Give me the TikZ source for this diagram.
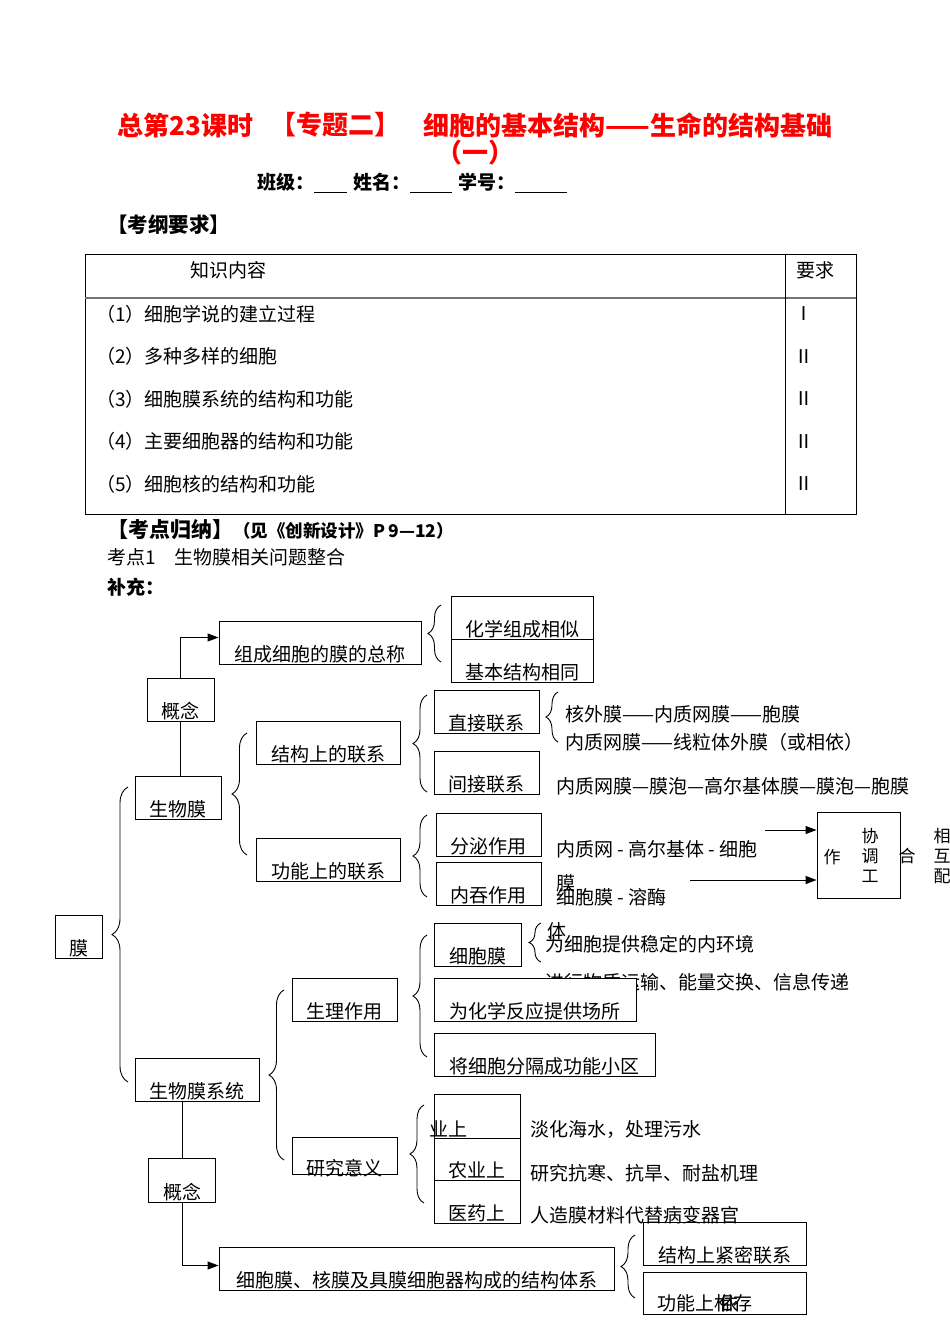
\documentclass[tikz,border=0pt]{standalone}
\usepackage{fontspec}
\setmainfont{Noto Sans CJK SC}
\usetikzlibrary{arrows.meta,decorations.pathreplacing}
\newcommand\wz{\fontsize{19}{22}\selectfont}
\newcommand\xz{\fontsize{17}{20}\selectfont}

\begin{document}
\begin{tikzpicture}[x=1pt,y=-1pt,line width=0.9pt,
    txt/.style={inner sep=0,anchor=west,font=\wz},
    box/.style={draw,inner sep=0,text height=40pt,text depth=3pt,font=\wz},
    plainbox/.style={draw,inner sep=0},
    brc/.style={decorate,decoration={brace,amplitude=#1}},brc/.default=13pt,
    arr/.style={-{Triangle[length=11pt,width=8pt]}}]
\useasboundingbox[fill=white] (0,0) rectangle (950,1342);

			\begin{scope}[every node/.style={inner sep=0,anchor=west,text=red,font=\fontsize{26}{29}\selectfont\bfseries}]
	    		\node (t1) at (117,125) {总第23课时};
	    		\node (t2) at (270,125) {【专题二】};
	    		\node (t3) at (423,125) {细胞的基本结构——生命的结构基础};
	    		\node[anchor=center] (t4) at (475,153) {（一）};
			\end{scope}
			\begin{scope}[every node/.style={inner sep=0,anchor=west,font=\wz\bfseries}]
	    		\node (bj) at (257,183) {班级：\rule[-3pt]{33pt}{1pt}\hspace{6pt}姓名：\rule[-3pt]{42pt}{1pt}\hspace{6pt}学号：\rule[-3pt]{52pt}{1pt}};
	    		\node (kg) at (107,225) {\fontsize{20.5}{24}\selectfont【考纲要求】};
	    		\node (kd) at (107,530) {\fontsize{21}{24}\selectfont【考点归纳】\fontsize{17.5}{20}\selectfont（见《创新设计》P\,9—12）};
	    		\node (bc) at (107,587) {补充：};
			\end{scope}

			\draw (85,254) rectangle (856,514);
			\draw[line width=1.6pt,black!55] (85,298) -- (856,298);
			\draw (785,254) -- (785,514);
			\node[txt] (zsnr) at (190,270) {知识内容};
			\node[txt] (yq) at (796,270) {要求};
			\foreach \t/\r [count=\i] in {细胞学说的建立过程/Ⅰ,多种多样的细胞/Ⅱ,细胞膜系统的结构和功能/Ⅱ,主要细胞器的结构和功能/Ⅱ,细胞核的结构和功能/Ⅱ}{
	    		\node[txt] (row\i) at (96,{271.5+42.5*\i}) {（\i）\t};
	    		\node[txt,anchor=center] (req\i) at (804,{271.5+42.5*\i}) {\r};
			}
			\node[txt] (kd1) at (107,557) {考点1\quad 生物膜相关问题整合};

			\begin{scope}[every node/.style={box}]
	    		\node[minimum width=202] (zcm) at (320,642.5) {组成细胞的膜的总称};
	    		\node[minimum width=142] (hx) at (522,618) {化学组成相似};
	    		\node[minimum width=142] (jb) at (522,661) {基本结构相同};
	    		\node[minimum width=67] (gn1) at (180.5,699.5) {概念};
	    		\node[minimum width=86] (swm) at (178,797.5) {生物膜};
	    		\node[minimum width=144] (jg) at (328,742.5) {结构上的联系};
	    		\node[minimum width=144] (gn) at (328,859.5) {功能上的联系};
	    		\node[minimum width=105] (zj) at (486.5,711.5) {直接联系};
	    		\node[minimum width=105] (jj) at (486.5,772.5) {间接联系};
	    		\node[minimum width=105] (fm) at (488.5,834.5) {分泌作用};
	    		\node[minimum width=105] (nt) at (488.5,883.5) {内吞作用};
	    		\node[minimum width=47] (mo) at (78.5,937) {膜};
	    		\node[minimum width=124] (swmxt) at (197,1079.5) {生物膜系统};
	    		\node[minimum width=105] (sl) at (344.5,999.5) {生理作用};
	    		\node[minimum width=87] (xbm) at (477.5,944.5) {细胞膜};
			\end{scope}

			\node[txt] (ts1) at (565,714) {核外膜——内质网膜——胞膜};
	    	\node[txt] (ts2) at (565,742) {内质网膜——线粒体外膜（或相依）};
	    	\node[txt] (ts3) at (556,786) {内质网膜—膜泡—高尔基体膜—膜泡—胞膜};
	    	\node[txt] (ts4) at (556,849) {内质网 - 高尔基体 - 细胞};
	    	\node[txt] (ts5) at (556,883) {膜};
	    	\node[txt] (ts6) at (556,897) {细胞膜 - 溶酶};
	    	\node[txt] (ts7) at (547,931) {体};
	    	\node[txt] (ts8) at (545,944) {为细胞提供稳定的内环境};
	    	\node[txt] (ts9) at (545,982) {进行物质运输、能量交换、信息传递};

			\begin{scope}[every node/.style={box}]
	    		\node[minimum width=202,fill=white] (hxfy) at (535,999.5) {为化学反应提供场所};
	    		\node[minimum width=221] (fg) at (544.5,1054.5) {将细胞分隔成功能小区};
	    		\node[minimum width=86,text height=39pt] (ny) at (477,1159) {农业上};
	    		\node[minimum width=86] (yy) at (477,1201.5) {医药上};
	    		\node[minimum width=67,text height=41pt] (gn2) at (182,1180) {概念};
	    		\node[minimum width=395] (xbmhm) at (416.5,1268.5) {细胞膜、核膜及具膜细胞器构成的结构体系};
	    		\node[minimum width=163] (jgjm) at (724.5,1243.5) {结构上紧密联系};
			\end{scope}
			\node[plainbox,minimum width=105,minimum height=37] (yj) at (344.5,1155.5) {};
			\node[txt,anchor=center] (yjt) at (344.5,1168) {研究意义};
			\node[plainbox,minimum width=86,minimum height=44] (gy) at (477,1116) {};
			\node[txt] (gyt) at (429,1129) {业上};
			\node[plainbox,minimum width=163,minimum height=42] (gnxy) at (724.5,1293) {};
			\node[txt] (gnxyt) at (657,1303) {功能上相存};
			\node[txt] (yi) at (719,1303) {依};
			\node[txt] (ys1) at (530,1130) {淡化海水，处理污水};
			\node[txt] (ys2) at (530,1173) {研究抗寒、抗旱、耐盐机理};
			\node[txt] (ys3) at (530,1215) {人造膜材料代替病变器官};

			\node[plainbox,minimum width=83,minimum height=86] (xt) at (858.5,855) {};
			\begin{scope}[every node/.style={inner sep=0,font=\xz}]
	    		\node (c1) at (832,857) {作};
	    		\node (c2) at (870,836) {协};
	    		\node (c3) at (870,856) {调};
	    		\node (c4) at (870,876) {工};
	    		\node (c5) at (907,856) {合};
	    		\node (c6) at (942,836) {相};
	    		\node (c7) at (942,856) {互};
	    		\node (c8) at (942,876) {配};
			\end{scope}
			\coordinate (a1) at (765,830);
			\coordinate (a2) at (690,880);
			\draw[arr] (a1) -- (a1 -| xt.west);
			\draw[arr] (a2) -- (a2 -| xt.west);

			\draw[arr] (gn1.north) |- ([yshift=5pt]zcm.west);
			\draw (gn1.south) -- (gn1.south |- swm.north);
			\draw (gn2.north) -- (gn2.north |- swmxt.south);
			\draw[arr] (gn2.south) |- ([yshift=3pt]xbmhm.west);

			\draw[brc] (441,662) -- (441,605);
			\draw[brc=14pt] (427,792) -- (427,695);
			\draw[brc=12pt] (558,742) -- (558,692);
			\draw[brc=15pt] (247,855) -- (247,733);
			\draw[brc=16pt] (128,1082) -- (128,787);
			\draw[brc=14pt] (427,897) -- (427,815);
			\draw[brc=15pt] (284,1160) -- (284,990);
			\draw[brc=14pt] (427,1057) -- (427,935);
			\draw[brc=12pt] (541,962) -- (541,923);
			\draw[brc=14pt] (424,1203) -- (424,1105);
			\draw[brc=14pt] (635,1298) -- (635,1235);
		\end{tikzpicture}
\end{document}
